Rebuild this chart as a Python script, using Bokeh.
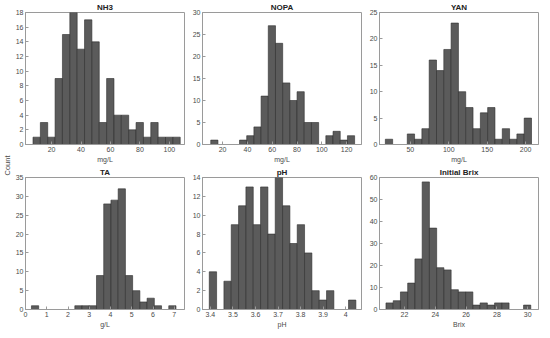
from bokeh.plotting import figure
from bokeh.layouts import row, column
from bokeh.models import FixedTicker, CustomJSTickFormatter, Range1d
from bokeh.embed import file_html
from bokeh.resources import INLINE

FONT = "Liberation Sans"

# ---- data (histogram counts, bin starts and widths) ----
nh3_counts = [1, 3, 1, 9, 15, 18, 13, 17, 14, 3, 9, 4, 4, 2, 3, 1, 3, 1, 1, 1]
nh3_start, nh3_width = 7.4, 5.0
nh3_xticks = [20, 40, 60, 80, 100]
nh3_yticks = [0, 2, 4, 6, 8, 10, 12, 14, 16, 18]

nopa_counts = [1, 0, 0, 0, 1, 2, 4, 11, 27, 23, 14, 10, 12, 5, 5, 0, 2, 3, 1, 2]
nopa_start, nopa_width = 10.45, 5.8
nopa_xticks = [20, 40, 60, 80, 100, 120]
nopa_yticks = [0, 5, 10, 15, 20, 25, 30]

yan_counts = [1, 0, 0, 2, 1, 3, 16, 14, 18, 23, 10, 7, 3, 6, 7, 1, 3, 1, 2, 5]
yan_start, yan_width = 17.6, 9.5
yan_xticks = [50, 100, 150, 200]
yan_yticks = [0, 5, 10, 15, 20, 25]

ta_counts = [1, 0, 0, 0, 0, 0, 1, 1, 1, 9, 28, 29, 32, 9, 5, 2, 3, 1, 0, 1]
ta_start, ta_width = 0.28, 0.34
ta_xticks = [0, 1, 2, 3, 4, 5, 6, 7]
ta_yticks = [0, 5, 10, 15, 20, 25, 30, 35]

ph_counts = [4, 0, 3, 9, 11, 13, 9, 13, 8, 14, 11, 7, 9, 6, 2, 1, 2, 0, 0, 1]
ph_start, ph_width = 3.395, 0.0325
ph_xticks = [3.4, 3.5, 3.6, 3.7, 3.8, 3.9, 4.0]
ph_yticks = [0, 2, 4, 6, 8, 10, 12, 14]

brix_counts = [3, 4, 8, 12, 23, 58, 37, 19, 18, 9, 8, 8, 2, 3, 2, 3, 3, 0, 0, 2]
brix_start, brix_width = 20.8, 0.47
brix_xticks = [22, 24, 26, 28, 30]
brix_yticks = [0, 10, 20, 30, 40, 50, 60]

BAR_FILL = "#5b5b5b"
BAR_LINE = "#2e2e2e"
AXIS_COL = "#9a9a9a"
LABEL_COL = "#4a4a4a"


def panel(title, counts, start, width, xlim, ylim, xticks, yticks, xlabel, ph=False):
    p = figure(width=177, height=165, title=title, output_backend="svg",
               toolbar_location=None, x_range=Range1d(*xlim), y_range=Range1d(*ylim),
               min_border_left=14, min_border_right=4, min_border_top=11,
               min_border_bottom=20)
    keep = [i for i, c in enumerate(counts) if c > 0]
    lefts = [start + i * width for i in keep]
    rights = [start + (i + 1) * width for i in keep]
    tops = [counts[i] for i in keep]
    p.quad(left=lefts, right=rights, top=tops, bottom=0,
           fill_color=BAR_FILL, line_color=BAR_LINE, line_width=0.6)
    p.xgrid.visible = False
    p.ygrid.visible = False
    p.outline_line_color = AXIS_COL
    p.outline_line_width = 1
    p.title.align = "center"
    p.title.text_font = FONT
    p.title.text_font_size = "8px"
    p.title.text_font_style = "bold"
    p.title.text_color = "#222222"
    p.title.standoff = 1
    p.xaxis.ticker = FixedTicker(ticks=xticks)
    p.yaxis.ticker = FixedTicker(ticks=yticks)
    if ph:
        p.xaxis.formatter = CustomJSTickFormatter(
            code="return (Math.round(tick*10)/10).toString();")
    p.xaxis.axis_label = xlabel
    for ax in (p.xaxis, p.yaxis):
        ax.axis_line_color = AXIS_COL
        ax.major_tick_line_color = AXIS_COL
        ax.major_tick_in = 3
        ax.major_tick_out = 0
        ax.minor_tick_line_color = None
        ax.major_label_text_font = FONT
        ax.major_label_text_font_size = "7px"
        ax.major_label_text_color = LABEL_COL
        ax.major_label_standoff = 2
        ax.axis_label_text_font = FONT
        ax.axis_label_text_font_size = "7px"
        ax.axis_label_text_font_style = "normal"
        ax.axis_label_text_color = LABEL_COL
        ax.axis_label_standoff = 1
    return p


p1 = panel("NH3", nh3_counts, nh3_start, nh3_width, (2.3, 110.3), (0, 18),
           nh3_xticks, nh3_yticks, "mg/L")
p2 = panel("NOPA", nopa_counts, nopa_start, nopa_width, (3.8, 132), (0, 30),
           nopa_xticks, nopa_yticks, "mg/L")
p3 = panel("YAN", yan_counts, yan_start, yan_width, (10, 216.7), (0, 25),
           yan_xticks, yan_yticks, "mg/L")
p4 = panel("TA", ta_counts, ta_start, ta_width, (0, 7.48), (0, 35),
           ta_xticks, ta_yticks, "g/L")
p5 = panel("pH", ph_counts, ph_start, ph_width, (3.365, 4.07), (0, 14),
           ph_xticks, ph_yticks, "pH", ph=True)
p6 = panel("Initial Brix", brix_counts, brix_start, brix_width, (20.38, 30.7), (0, 60),
           brix_xticks, brix_yticks, "Brix")

cnt = figure(width=11, height=330, title="Count", title_location="left",
             output_backend="svg", toolbar_location=None,
             min_border_left=0, min_border_right=0, min_border_top=0, min_border_bottom=0)
cnt.axis.visible = False
cnt.grid.visible = False
cnt.outline_line_color = None
cnt.title.align = "center"
cnt.title.text_font = FONT
cnt.title.text_font_size = "7.5px"
cnt.title.text_font_style = "normal"
cnt.title.text_color = LABEL_COL
cnt.title.standoff = 0

layout = row(cnt, column(row(p1, p2, p3), row(p4, p5, p6)))

open("out.html", "w").write(file_html(layout, INLINE))
